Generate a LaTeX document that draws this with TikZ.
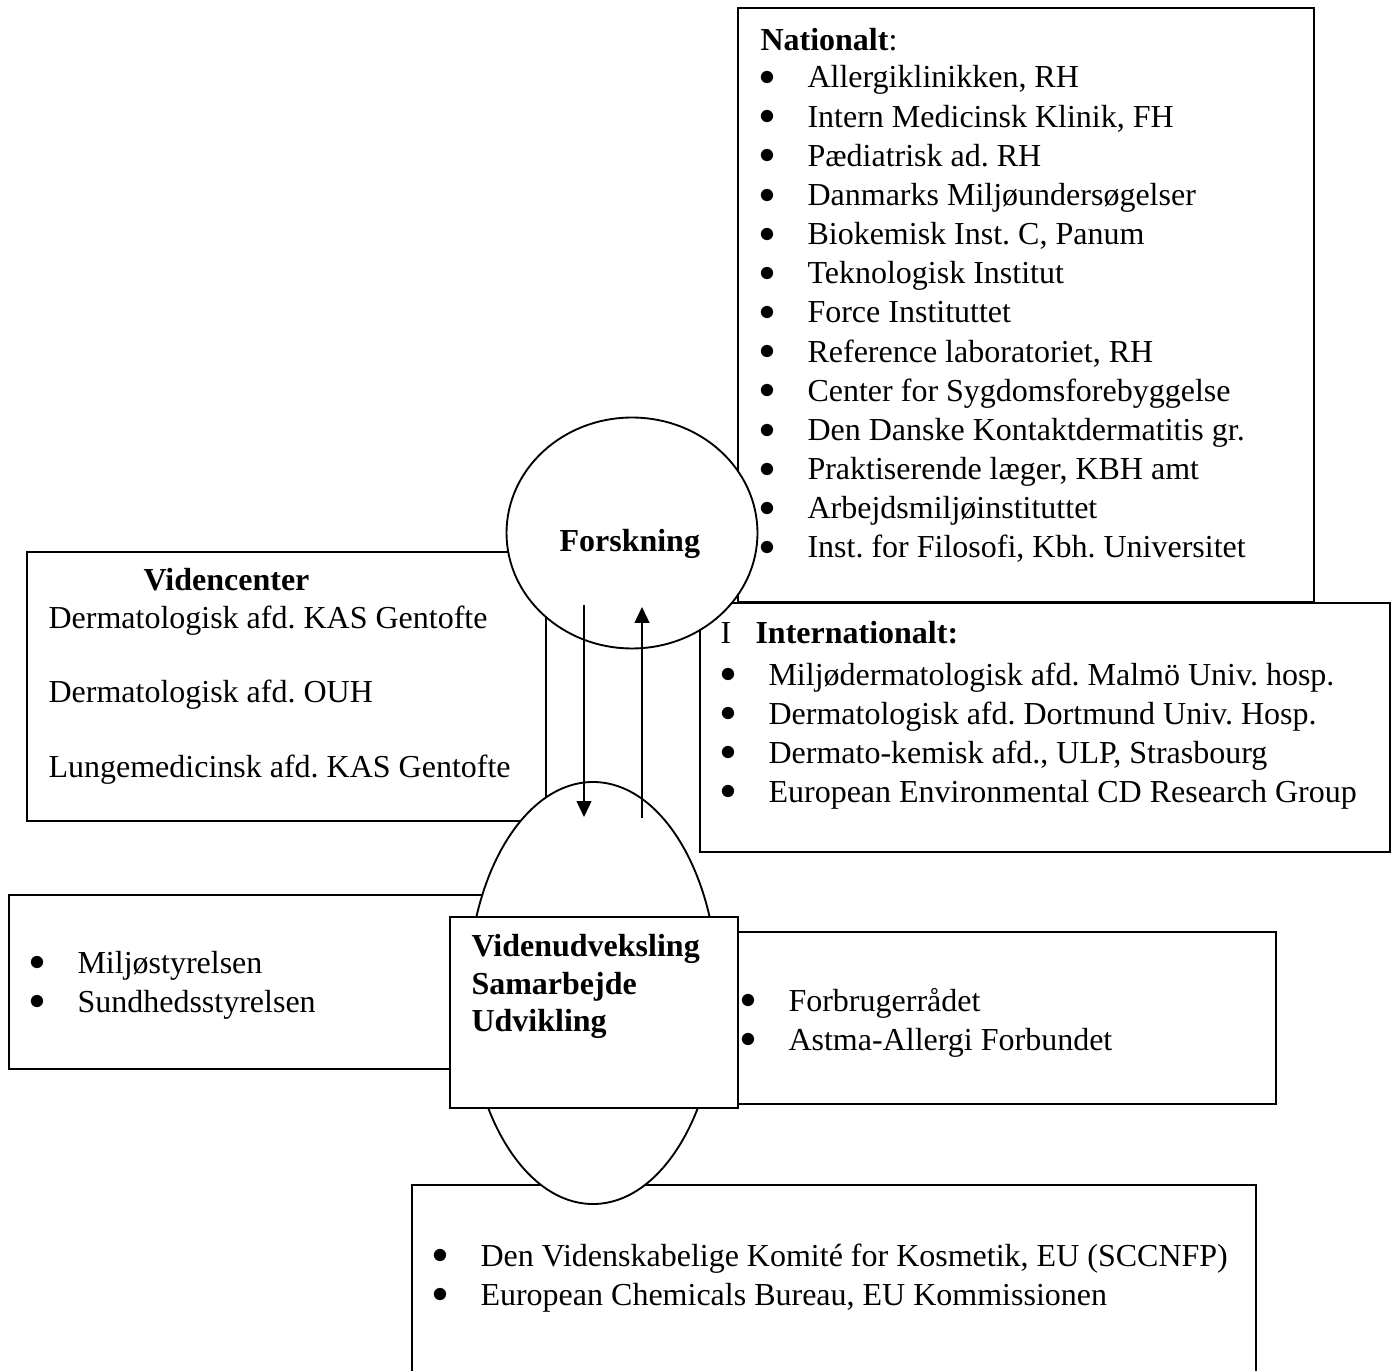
\documentclass[tikz,border=0pt]{standalone}
\usepackage{fontspec}
\setmainfont{Liberation Serif}
\usepackage{tikz}
\usetikzlibrary{arrows.meta,shapes.geometric,positioning,calc}

\newcommand{\bul}{\llap{\makebox[0pt]{\raisebox{0.9pt}{\fontsize{11.5}{11.5}\selectfont$\bullet$}}\hspace{15pt}}}
\frenchspacing

\begin{document}
\begin{tikzpicture}[
		x=0.375pt, y=-0.375pt,
		frame/.style={draw, fill=white, line width=0.75pt},
		ring/.style={ellipse, draw, fill=white, line width=0.7pt, inner sep=0pt},
		txt/.style={anchor=base west, inner sep=0pt, font=\fontsize{12}{14}\selectfont},
		flow/.style={line width=0.6pt, -{Triangle[length=6pt,width=5.6pt]}}
		]
	\useasboundingbox (0,0) rectangle (1398,1371);

		% --- Rammer ---
		\draw[frame] (738,8) rectangle (1314,602);
		\draw[frame] (27,552) rectangle (546,821);
		\draw[frame] (700,603) rectangle (1390,852);
		\node[ring, minimum width=94.1pt, minimum height=86.6pt] (forsk) at (632,533) {};
		\draw[frame] (9,895) rectangle (560,1069);
		\draw[frame] (600,932) rectangle (1276,1104);
		\draw[frame] (412,1371) |- (1256,1185) -- (1256,1371);
		\node[ring, minimum width=93.75pt, minimum height=158.25pt] (udv) at (593,993) {};
		\draw[frame] (450,917) rectangle (738,1108);

		% --- Pile ---
		\coordinate (ned1) at (584,605);
		\coordinate (ned2) at (584,817);
		\coordinate (op1) at (642,818);
		\coordinate (op2) at (642,607);
		\draw[flow] (ned1) -- (ned2);
		\draw[flow] (op1) -- (op2);

		% --- Forskning ---
		\node[txt] (forsktxt) at (559,552) {\textbf{Forskning}};

		% --- Nationalt ---
		\node[txt] (nat) at (760,51) {\textbf{Nationalt}:};
		\node[txt] (nat1) at (807,88) {\bul Allergiklinikken, RH};
		\node[txt] (nat2) at (807,127.2) {\bul Intern Medicinsk Klinik, FH};
		\node[txt] (nat3) at (807,166.3) {\bul Pædiatrisk ad. RH};
		\node[txt] (nat4) at (807,205.5) {\bul Danmarks Miljøundersøgelser};
		\node[txt] (nat5) at (807,244.7) {\bul Biokemisk Inst. C, Panum};
		\node[txt] (nat6) at (807,283.9) {\bul Teknologisk Institut};
		\node[txt] (nat7) at (807,323) {\bul Force Instituttet};
		\node[txt] (nat8) at (807,362.2) {\bul Reference laboratoriet, RH};
		\node[txt] (nat9) at (807,401.4) {\bul Center for Sygdomsforebyggelse};
		\node[txt] (nat10) at (807,440.5) {\bul Den Danske Kontaktdermatitis gr.};
		\node[txt] (nat11) at (807,479.7) {\bul Praktiserende læger, KBH amt};
		\node[txt] (nat12) at (807,518.9) {\bul Arbejdsmiljøinstituttet};
		\node[txt] (nat13) at (807,558) {\bul Inst. for Filosofi, Kbh. Universitet};

		% --- Internationalt ---
		\node[txt] (intI) at (720,644) {I};
		\node[txt] (intl) at (755,644) {\textbf{Internationalt:}};
		\node[txt] (intl1) at (768,685) {\bul Miljødermatologisk afd. Malmö Univ. hosp.};
		\node[txt] (intl2) at (768,724) {\bul Dermatologisk afd. Dortmund Univ. Hosp.};
		\node[txt] (intl3) at (768,763) {\bul Dermato-kemisk afd., ULP, Strasbourg};
		\node[txt] (intl4) at (768,802) {\bul European Environmental CD Research Group};

		% --- Videncenter ---
		\node[txt] (vc) at (143,591) {\textbf{Videncenter}};
		\node[txt] (vc1) at (48,629) {Dermatologisk afd. KAS Gentofte};
		\node[txt] (vc2) at (48,702) {Dermatologisk afd. OUH};
		\node[txt] (vc3) at (48,777) {Lungemedicinsk afd. KAS Gentofte};

		% --- Styrelser ---
		\node[txt] (sty1) at (77,973) {\bul Miljøstyrelsen};
		\node[txt] (sty2) at (77,1012) {\bul Sundhedsstyrelsen};

		% --- Videnudveksling ---
		\node[txt] (vu1) at (471,956) {\textbf{Videnudveksling}};
		\node[txt] (vu2) at (471,994) {\textbf{Samarbejde}};
		\node[txt] (vu3) at (471,1031) {\textbf{Udvikling}};

		% --- Forbrugere ---
		\node[txt] (fb1) at (788,1011) {\bul Forbrugerrådet};
		\node[txt] (fb2) at (788,1050) {\bul Astma-Allergi Forbundet};

		% --- EU ---
		\node[txt] (eu1) at (480,1266) {\bul Den Videnskabelige Komité for Kosmetik, EU (SCCNFP)};
		\node[txt] (eu2) at (480,1305) {\bul European Chemicals Bureau, EU Kommissionen};

	\end{tikzpicture}
\end{document}
